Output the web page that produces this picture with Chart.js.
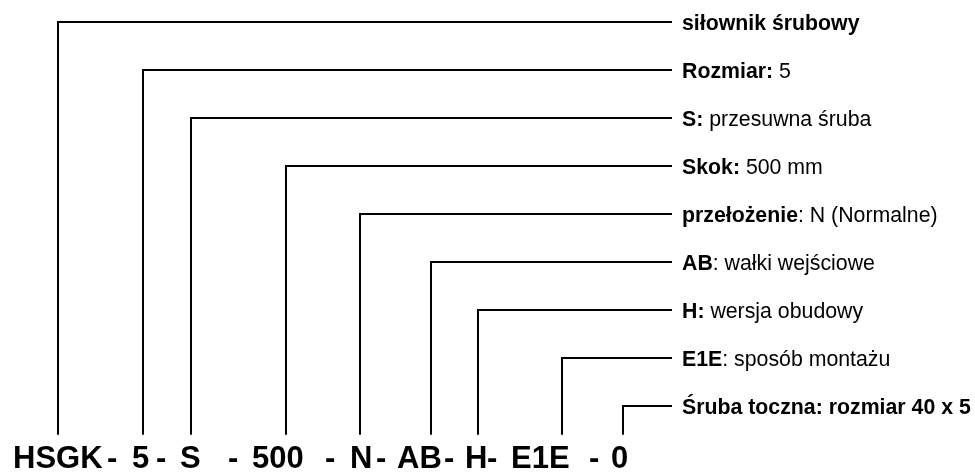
<!DOCTYPE html>
<html>
<head>
<meta charset="utf-8">
<script src="https://cdn.jsdelivr.net/npm/chart.js@4.4.1/dist/chart.umd.min.js"></script>
<style>
  html, body { margin: 0; padding: 0; background: #ffffff; }
  #wrap { width: 975px; height: 472px; position: relative; }
</style>
</head>
<body>
<div id="wrap"><canvas id="c" width="975" height="472"></canvas></div>
<script>
// ---- data (diagram content) ----
const codes = ['HSGK', '5', 'S', '500', 'N', 'AB', 'H', 'E1E', '0'];
const separators = ['-', '-', '-', '-', '-', '-', '-', '-'];
const boldLabels = ['siłownik śrubowy', 'Rozmiar:', 'S:', 'Skok:', 'przełożenie', 'AB', 'H:', 'E1E', 'Śruba toczna: rozmiar 40 x 5'];
const plainLabels = ['', ' 5', ' przesuwna śruba', ' 500 mm', ': N (Normalne)', ': wałki wejściowe', ' wersja obudowy', ': sposób montażu', ''];
const rowLevels = [0, 1, 2, 3, 4, 5, 6, 7, 8];

// ---- layout (positions on the diagram's x axis, in row units on y) ----
const anchorX = [58, 143, 191, 286, 360, 431, 478, 562, 623];
const codeLeftX = [13, 132, 180, 252, 350, 397, 465, 511, 611];
const sepLeftX = [107, 156, 228, 325, 376, 444, 487, 589];
const lineEndX = 672;
const labelX = 682;
const stemBottom = 8.6;
const codeBaseline = 9.3;
const labelBaselineOffset = 0.16;

const datasets = rowLevels.map((lvl, i) => ({
  label: codes[i],
  data: [
    { x: anchorX[i], y: stemBottom },
    { x: anchorX[i], y: lvl },
    { x: lineEndX, y: lvl }
  ],
  showLine: true,
  borderColor: '#000000',
  borderWidth: 2,
  pointRadius: 0,
  pointHoverRadius: 0,
  fill: false,
  tension: 0,
  clip: false,
  borderJoinStyle: 'miter',
  borderCapStyle: 'butt'
}));

const textPlugin = {
  id: 'diagramText',
  afterDatasetsDraw(chart) {
    const ctx = chart.ctx;
    const xs = chart.scales.x, ys = chart.scales.y;
    ctx.save();
    ctx.fillStyle = '#000000';
    ctx.textBaseline = 'alphabetic';
    ctx.textAlign = 'left';
    // right-hand labels
    rowLevels.forEach((lvl, i) => {
      const y = ys.getPixelForValue(lvl + labelBaselineOffset);
      let x = xs.getPixelForValue(labelX);
      ctx.font = 'bold 21.3px "Liberation Sans", Arial, sans-serif';
      ctx.fillText(boldLabels[i], x, y);
      x += ctx.measureText(boldLabels[i]).width;
      if (plainLabels[i]) {
        ctx.font = '21.3px "Liberation Sans", Arial, sans-serif';
        ctx.fillText(plainLabels[i], x, y);
      }
    });
    // bottom code line
    ctx.font = 'bold 31px "Liberation Sans", Arial, sans-serif';
    const by = ys.getPixelForValue(codeBaseline);
    codes.forEach((c, i) => ctx.fillText(c, xs.getPixelForValue(codeLeftX[i]), by));
    separators.forEach((s, i) => ctx.fillText(s, xs.getPixelForValue(sepLeftX[i]), by));
    ctx.restore();
  }
};

new Chart(document.getElementById('c'), {
  type: 'scatter',
  data: { datasets },
  options: {
    responsive: false,
    animation: false,
    events: [],
    layout: { padding: 0 },
    plugins: { legend: { display: false }, tooltip: { enabled: false } },
    scales: {
      x: { type: 'linear', min: 0, max: 975, display: false },
      y: { type: 'linear', min: -22 / 48, max: 450 / 48, reverse: true, display: false }
    }
  },
  plugins: [textPlugin]
});
</script>
</body>
</html>
